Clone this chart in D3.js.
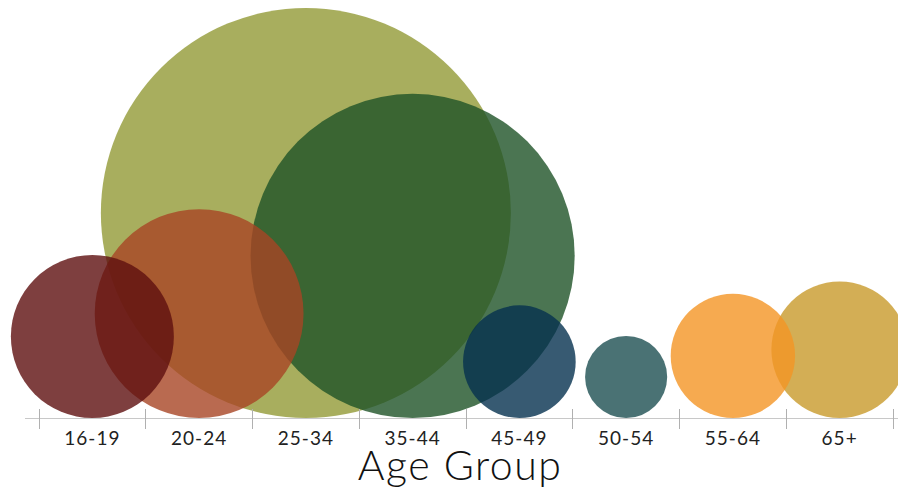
<!DOCTYPE html>
<html>
<head>
<meta charset="UTF-8">
<title>Age Group</title>
<style>
    body { margin: 0; background: #fff; font-family: Lato, 'Open Sans', sans-serif; }
    .axis line { stroke: #c8c8c8; shape-rendering: crispEdges; }
    .axis .tick { stroke: #b0b0b0; }
    .label { font-size: 19px; letter-spacing: 1px; fill: #222; text-anchor: middle; }
    .title { font-size: 41px; font-weight: 300; letter-spacing: 1.5px; fill: #111; text-anchor: middle; }
</style>
</head>
<body>
<script src="https://d3js.org/d3.v7.min.js"></script>
<script>
    // data
    var groups = ["16-19", "20-24", "25-34", "35-44", "45-49", "50-54", "55-64", "65+"];
    var shares = [6.7, 11.0, 42.4, 26.5, 3.2, 1.7, 3.9, 4.7];
    var colors = ["#5e0f0f", "#a84524", "#929a36", "#1e5227", "#05314f", "#1d4f51", "#f49524", "#c89a2a"];

    var width = 898, height = 489;
    var baseY = 418;

    var svg = d3.select("body").append("svg")
        .attr("width", width)
        .attr("height", height);

    var x = d3.scaleBand()
        .domain(groups)
        .range([39, 893])
        .padding(0);

    var r = d3.scaleSqrt()
        .domain([0, d3.max(shares)])
        .range([0, 205]);

    var data = groups.map(function(g, i) {
        return { group: g, value: shares[i], color: colors[i] };
    });

    // big ones first so small ones sit on top
    var sorted = data.slice().sort(function(a, b) { return b.value - a.value; });

    svg.append("g")
        .attr("class", "bubbles")
        .selectAll("circle")
        .data(sorted)
        .enter().append("circle")
        .attr("cx", function(d) { return x(d.group) + x.bandwidth() / 2; })
        .attr("cy", function(d) { return baseY - r(d.value); })
        .attr("r", function(d) { return r(d.value); })
        .attr("fill", function(d) { return d.color; })
        .attr("fill-opacity", 0.8);

    // axis
    var axis = svg.append("g").attr("class", "axis");
    axis.append("line")
        .attr("x1", 25).attr("x2", width)
        .attr("y1", baseY).attr("y2", baseY);

    var edges = groups.map(function(g) { return x(g); }).concat([x.range()[1]]);
    axis.selectAll("line.tick")
        .data(edges)
        .enter().append("line")
        .attr("class", "tick")
        .attr("x1", function(d) { return d; })
        .attr("x2", function(d) { return d; })
        .attr("y1", baseY - 9)
        .attr("y2", baseY + 11);

    svg.append("g")
        .selectAll("text")
        .data(groups)
        .enter().append("text")
        .attr("class", "label")
        .attr("x", function(d) { return x(d) + x.bandwidth() / 2; })
        .attr("y", 445)
        .text(function(d) { return d; });

    svg.append("text")
        .attr("class", "title")
        .attr("x", 460)
        .attr("y", 480)
        .text("Age Group");
</script>
</body>
</html>
